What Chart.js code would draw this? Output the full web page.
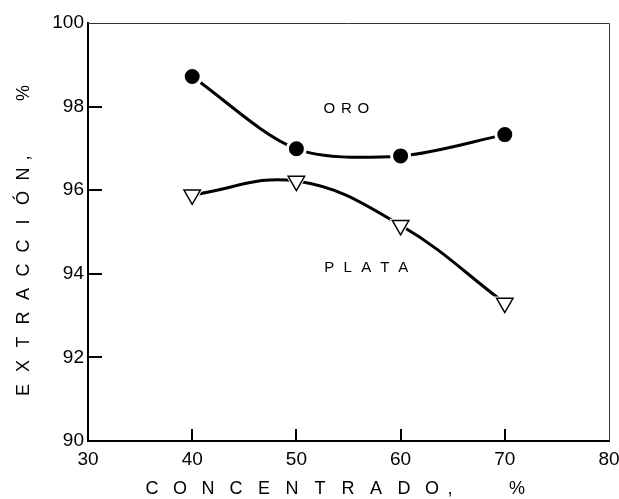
<!DOCTYPE html>
<html>
<head>
<meta charset="utf-8">
<script src="https://cdn.jsdelivr.net/npm/chart.js@4.4.1/dist/chart.umd.min.js"></script>
<style>
    html, body { margin: 0; padding: 0; background: #ffffff; overflow: hidden; }
    #wrap { width: 622px; height: 499px; position: relative; }
</style>
</head>
<body>
<div id="wrap"><canvas id="chartExt"></canvas></div>
<script>
// ======================
// DATA
// ======================
const concentrado = [40, 50, 60, 70];
const oroValues = [98.72, 96.99, 96.82, 97.33];
const plataValues = [95.89, 96.22, 95.16, 93.3];

const xTicks = [30, 40, 50, 60, 70, 80];
const yTicks = [90, 92, 94, 96, 98, 100];

const xTitle = "CONCENTRADO";
const yTitle = "EXTRACCIÓN";
const unitLabel = "%";
const oroLabel = "ORO";
const plataLabel = "PLATA";

const FONT = "'Liberation Sans', Arial, sans-serif";

function toPoints(xs, ys) {
    return xs.map((x, i) => ({ x: x, y: ys[i] }));
}

// ======================
// DRAW SPACED TEXT
// ======================
function spacedText(ctx, text, cx, cy, pitch) {
    const start = cx - (text.length - 1) * pitch / 2;
    for (let i = 0; i < text.length; i++) {
        ctx.fillText(text[i], start + i * pitch, cy);
    }
}

// ======================
// PLUGIN: frame, inner ticks, labels, titles
// ======================
const decorPlugin = {
    id: "decor",
    afterDraw(chart) {
        const ctx = chart.ctx;
        const area = chart.chartArea;
        const xs = chart.scales.x;
        const ys = chart.scales.y;

        ctx.save();

        // top & right border (thin)
        ctx.strokeStyle = "#333";
        ctx.lineWidth = 1;
        ctx.beginPath();
        ctx.moveTo(area.left, area.top + 0.5);
        ctx.lineTo(area.right + 0.5, area.top + 0.5);
        ctx.lineTo(area.right + 0.5, area.bottom);
        ctx.stroke();

        // inner ticks
        ctx.strokeStyle = "#000";
        ctx.lineWidth = 2;
        ctx.beginPath();
        yTicks.slice(1, -1).forEach(v => {
            const py = Math.round(ys.getPixelForValue(v));
            ctx.moveTo(area.left, py);
            ctx.lineTo(area.left + 14, py);
        });
        xTicks.slice(1, -1).forEach(v => {
            const px = Math.round(xs.getPixelForValue(v));
            ctx.moveTo(px, area.bottom);
            ctx.lineTo(px, area.bottom - 12);
        });
        ctx.stroke();

        ctx.fillStyle = "#000";
        ctx.textAlign = "center";
        ctx.textBaseline = "middle";

        // series labels
        ctx.font = "15px " + FONT;
        spacedText(ctx, oroLabel, xs.getPixelForValue(54.8), ys.getPixelForValue(97.95), 17);
        spacedText(ctx, plataLabel, xs.getPixelForValue(56.7), ys.getPixelForValue(94.15), 18.5);

        // x title
        ctx.font = "18px " + FONT;
        spacedText(ctx, xTitle, 292, 489, 28);
        ctx.fillText(",", 450, 489);
        ctx.fillText(unitLabel, 517, 489);

        // y title (rotated)
        ctx.translate(24, 0);
        ctx.rotate(-Math.PI / 2);
        for (let i = 0; i < yTitle.length; i++) {
            ctx.fillText(yTitle[i], -(390 - i * 24), 0);
        }
        ctx.fillText(",", -158, 0);
        ctx.fillText(unitLabel, -93, 0);

        ctx.restore();
    }
};

// ======================
// CHART
// ======================
const ctx = document.getElementById("chartExt").getContext("2d");

new Chart(ctx, {
    type: "scatter",
    data: {
        datasets: [
            {
                data: toPoints(concentrado, oroValues),
                pointStyle: "circle",
                pointRadius: 9,
                pointBackgroundColor: "#000",
                pointBorderColor: "#fff",
                pointBorderWidth: 3,
                showLine: false,
                order: 1
            },
            {
                data: toPoints(concentrado, plataValues),
                pointStyle: "triangle",
                rotation: 180,
                pointRadius: 9.5,
                pointBackgroundColor: "#fff",
                pointBorderColor: "#000",
                pointBorderWidth: 1.5,
                showLine: false,
                order: 1
            },
            {
                data: toPoints(concentrado, plataValues),
                pointStyle: "triangle",
                rotation: 180,
                pointRadius: 13,
                pointBackgroundColor: "#fff",
                pointBorderColor: "#fff",
                pointBorderWidth: 0,
                showLine: false,
                order: 2
            },
            {
                data: toPoints(concentrado, oroValues),
                showLine: true,
                borderColor: "#000",
                borderWidth: 3,
                tension: 0.3,
                pointRadius: 0,
                order: 3
            },
            {
                data: toPoints(concentrado, plataValues),
                showLine: true,
                borderColor: "#000",
                borderWidth: 3,
                tension: 0.4,
                pointRadius: 0,
                order: 3
            }
        ]
    },
    options: {
        responsive: true,
        maintainAspectRatio: false,
        animation: false,
        layout: { padding: { top: 23, right: 1, left: 0, bottom: 0 } },
        plugins: {
            legend: { display: false },
            tooltip: { enabled: false }
        },
        scales: {
            x: {
                type: "linear",
                min: 30,
                max: 80,
                afterBuildTicks: (scale) => { scale.ticks = xTicks.map(v => ({ value: v })); },
                afterFit: (scale) => {
                    scale.height = 58;
                    scale.paddingLeft = 0;
                    scale.paddingRight = 0;
                },
                grid: { display: false, drawTicks: false },
                border: { display: true, color: "#000", width: 2 },
                ticks: {
                    color: "#000",
                    padding: 7,
                    font: { family: FONT, size: 19 }
                }
            },
            y: {
                type: "linear",
                min: 90,
                max: 100,
                afterBuildTicks: (scale) => { scale.ticks = yTicks.map(v => ({ value: v })); },
                afterFit: (scale) => {
                    scale.width = 88;
                },
                grid: { display: false, drawTicks: false },
                border: { display: true, color: "#000", width: 2 },
                ticks: {
                    color: "#000",
                    padding: 4,
                    font: { family: FONT, size: 19 }
                }
            }
        }
    },
    plugins: [decorPlugin]
});
</script>
</body>
</html>
